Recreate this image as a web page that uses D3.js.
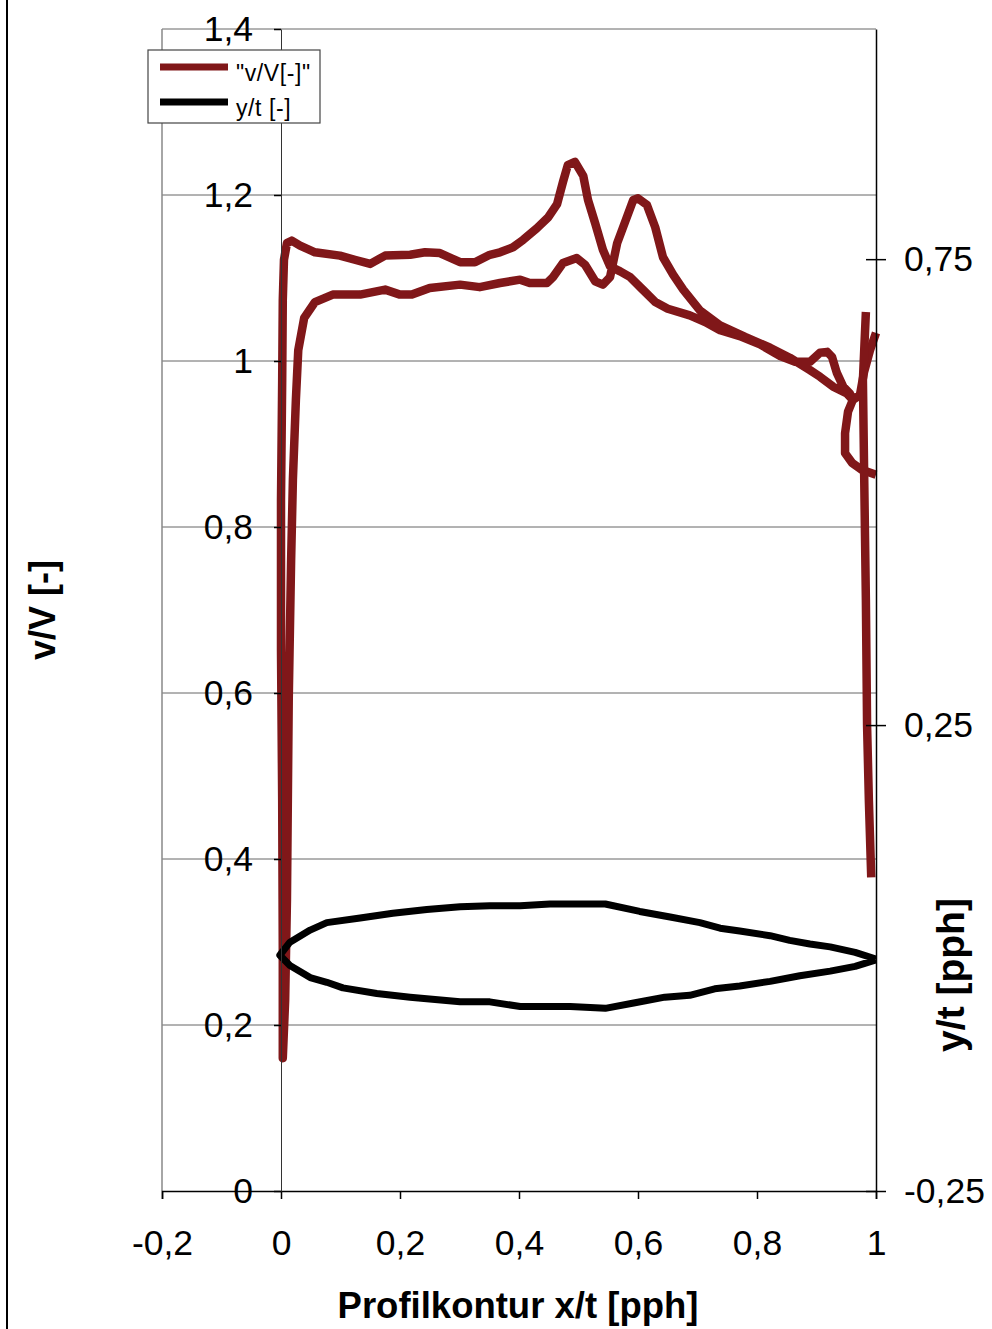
<!DOCTYPE html>
<html>
<head>
<meta charset="utf-8">
<script src="https://cdn.jsdelivr.net/npm/d3@7"></script>
<style>
  body { margin: 0; background: #fff; }
  svg { display: block; font-family: "Liberation Sans", Arial, sans-serif; }
</style>
</head>
<body>
<svg id="chart" width="992" height="1329"></svg>
<script>
// v/V along the contour: upper surface from trailing edge to leading edge
const upperX = [1.0,0.990,0.980,0.973,0.961,0.956,0.945,0.934,0.926,0.918,
  0.906,0.889,0.864,0.839,0.805,0.771,0.738,0.713,0.687,0.650,
  0.629,0.608,0.587,0.570,0.553,0.541,0.528,0.516,0.508,0.494,
  0.482,0.474,0.464,0.449,0.430,0.407,0.390,0.368,0.351,0.326,
  0.301,0.267,0.242,0.217,0.175,0.150,0.124,0.099,0.057,0.032,
  0.018,0.010,0.005,0.003,0.002,0.0,0.0,0.002,0.003,0.003];
const upperV = [1.034,1.013,0.987,0.959,0.953,0.961,0.969,0.986,1.005,1.011,
  1.010,0.999,0.999,1.006,1.020,1.030,1.037,1.047,1.055,1.063,
  1.071,1.086,1.101,1.108,1.114,1.134,1.166,1.194,1.223,1.240,
  1.236,1.216,1.189,1.173,1.160,1.146,1.137,1.131,1.128,1.119,
  1.119,1.130,1.131,1.128,1.127,1.117,1.122,1.127,1.131,1.139,
  1.145,1.142,1.122,1.073,0.977,0.833,0.652,0.471,0.290,0.160];
// lower surface, leading edge to trailing edge
const lowerX = [0.007,0.010,0.013,0.017,0.020,0.025,0.029,0.039,0.057,0.087,
  0.133,0.175,0.200,0.220,0.250,0.301,0.334,0.368,0.402,0.418,
  0.447,0.457,0.474,0.497,0.511,0.528,0.541,0.553,0.565,0.578,
  0.592,0.600,0.615,0.629,0.642,0.659,0.676,0.704,0.738,0.780,
  0.822,0.855,0.889,0.906,0.928,0.951,0.961,0.953,0.948,0.948,
  0.960,0.976,1.0];
const lowerV = [0.230,0.351,0.592,0.760,0.857,0.953,1.013,1.052,1.071,1.080,
  1.080,1.086,1.080,1.080,1.088,1.092,1.089,1.094,1.098,1.094,
  1.094,1.101,1.118,1.124,1.116,1.096,1.092,1.101,1.142,1.167,
  1.194,1.196,1.188,1.161,1.125,1.104,1.086,1.061,1.043,1.029,
  1.016,1.004,0.989,0.981,0.969,0.961,0.953,0.939,0.913,0.889,
  0.877,0.869,0.863];
// separate piece at the trailing edge
const tailX = [0.983,0.978,0.980,0.983,0.985,0.988,0.992];
const tailV = [1.059,0.977,0.869,0.712,0.561,0.471,0.378];

// profile contour y/t (secondary axis)
const profUpX = [-0.002,0.015,0.049,0.077,0.133,0.188,0.245,0.301,0.351,0.402,
  0.452,0.503,0.545,0.603,0.654,0.704,0.738,0.771,0.822,0.855,0.889,0.923,0.965,1.0];
const profUpY = [0.003,0.017,0.030,0.038,0.043,0.048,0.052,0.055,0.056,0.056,
  0.058,0.058,0.058,0.050,0.044,0.038,0.032,0.029,0.024,0.019,0.015,0.012,0.006,-0.001];
const profLoX = [-0.002,0.015,0.049,0.077,0.104,0.161,0.217,0.301,0.351,0.402,
  0.486,0.545,0.595,0.645,0.687,0.729,0.771,0.822,0.872,0.923,0.965,1.0];
const profLoY = [0.003,-0.008,-0.021,-0.026,-0.032,-0.038,-0.042,-0.047,-0.047,-0.052,
  -0.052,-0.054,-0.048,-0.042,-0.040,-0.033,-0.030,-0.025,-0.019,-0.014,-0.009,-0.002];

const xTicks = [-0.2,0,0.2,0.4,0.6,0.8,1];
const yTicks = [0,0.2,0.4,0.6,0.8,1,1.2,1.4];
const y2Ticks = [-0.25,0.25,0.75];

const red = "#801719";
const fmt = d => String(+d.toFixed(2)).replace(".", ",");

const svg = d3.select("#chart");
const x = d3.scaleLinear().domain([-0.2, 1]).range([162, 876]);
const y = d3.scaleLinear().domain([0, 1.4]).range([1191, 29]);
const y2 = d3.scaleLinear().domain([-0.25, 0.997]).range([1191, 29]);

// page edge line
svg.append("line").attr("x1", 7).attr("x2", 7).attr("y1", 0).attr("y2", 1329)
  .attr("stroke", "#000").attr("stroke-width", 2);

// gridlines + plot frame
svg.append("g").selectAll("line").data(yTicks.slice(1)).join("line")
  .attr("x1", x(-0.2)).attr("x2", x(1)).attr("y1", d => y(d)).attr("y2", d => y(d))
  .attr("stroke", "#666").attr("stroke-width", 1);
svg.append("line").attr("x1", x(-0.2)).attr("x2", x(-0.2)).attr("y1", y(1.4)).attr("y2", y(0))
  .attr("stroke", "#888").attr("stroke-width", 1.5);

// series
const lineV = d3.line().x(d => x(d[0])).y(d => y(d[1]));
const lineY = d3.line().x(d => x(d[0])).y(d => y2(d[1]));

const vMain = upperX.map((d, i) => [d, upperV[i]]).concat(lowerX.map((d, i) => [d, lowerV[i]]));
const vTail = tailX.map((d, i) => [d, tailV[i]]);
const prof = profUpX.map((d, i) => [d, profUpY[i]]).reverse()
  .concat(profLoX.map((d, i) => [d, profLoY[i]]).slice(1));

svg.append("path").datum(vMain).attr("d", lineV)
  .attr("fill", "none").attr("stroke", red).attr("stroke-width", 8.5).attr("stroke-linejoin", "round");
svg.append("path").datum(vTail).attr("d", lineV)
  .attr("fill", "none").attr("stroke", red).attr("stroke-width", 8.5).attr("stroke-linejoin", "round");
svg.append("path").datum(prof).attr("d", lineY)
  .attr("fill", "none").attr("stroke", "#000").attr("stroke-width", 7).attr("stroke-linejoin", "round");

// axes
const axisFont = g => g.selectAll("text").attr("font-size", 35.5).attr("fill", "#000")
  .attr("font-family", "'Liberation Sans', Arial, sans-serif");

svg.append("g").attr("transform", `translate(0,${y(0)})`)
  .call(d3.axisBottom(x).tickValues(xTicks).tickFormat(fmt).tickSize(8).tickPadding(31))
  .call(g => g.select(".domain").attr("stroke", "#000").attr("stroke-width", 1.5))
  .call(g => g.selectAll(".tick line").attr("stroke", "#000").attr("stroke-width", 1.5))
  .call(axisFont);

svg.append("g").attr("transform", `translate(${x(0)},0)`)
  .call(d3.axisLeft(y).tickValues(yTicks).tickFormat(fmt).tickSize(7).tickSizeOuter(0).tickPadding(21))
  .call(g => g.select(".domain").attr("stroke", "#333").attr("stroke-width", 1))
  .call(g => g.selectAll(".tick line").attr("stroke", "#000").attr("stroke-width", 1.5))
  .call(axisFont);

svg.append("g").attr("transform", `translate(${x(1)},0)`)
  .call(d3.axisRight(y2).tickValues(y2Ticks).tickFormat(fmt).tickSize(10).tickSizeOuter(0).tickPadding(18))
  .call(g => g.select(".domain").attr("stroke", "#000").attr("stroke-width", 1.5))
  .call(g => g.selectAll(".tick line").attr("stroke", "#000").attr("stroke-width", 1.5))
  .call(axisFont);
svg.append("g").attr("transform", `translate(${x(1)},0)`)
  .call(d3.axisRight(y2).tickValues(y2Ticks).tickFormat("").tickSize(-10))
  .call(g => g.select(".domain").remove())
  .call(g => g.selectAll(".tick line").attr("stroke", "#000").attr("stroke-width", 1.5));

// titles
svg.append("text").attr("x", 518).attr("y", 1318).attr("text-anchor", "middle")
  .attr("font-size", 36.5).attr("font-weight", "bold").text("Profilkontur x/t [pph]");
svg.append("text").attr("transform", "translate(55,610) rotate(-90)").attr("text-anchor", "middle")
  .attr("font-size", 36).attr("font-weight", "bold").text("v/V [-]");
svg.append("text").attr("transform", "translate(964,975) rotate(-90)").attr("text-anchor", "middle")
  .attr("font-size", 39).attr("font-weight", "bold").text("y/t [pph]");

// legend
const legend = svg.append("g").attr("transform", "translate(148,50)");
legend.append("rect").attr("width", 172).attr("height", 73)
  .attr("fill", "#fff").attr("stroke", "#444").attr("stroke-width", 1.2);
const items = [{ name: "\"v/V[-]\"", color: red }, { name: "y/t [-]", color: "#000" }];
items.forEach((it, i) => {
  const yy = 17 + i * 35;
  legend.append("line").attr("x1", 12).attr("x2", 80).attr("y1", yy).attr("y2", yy)
    .attr("stroke", it.color).attr("stroke-width", 7);
  legend.append("text").attr("x", 88).attr("y", yy + 14).attr("font-size", 23)
    .attr("letter-spacing", 0.6).text(it.name);
});
</script>
</body>
</html>
